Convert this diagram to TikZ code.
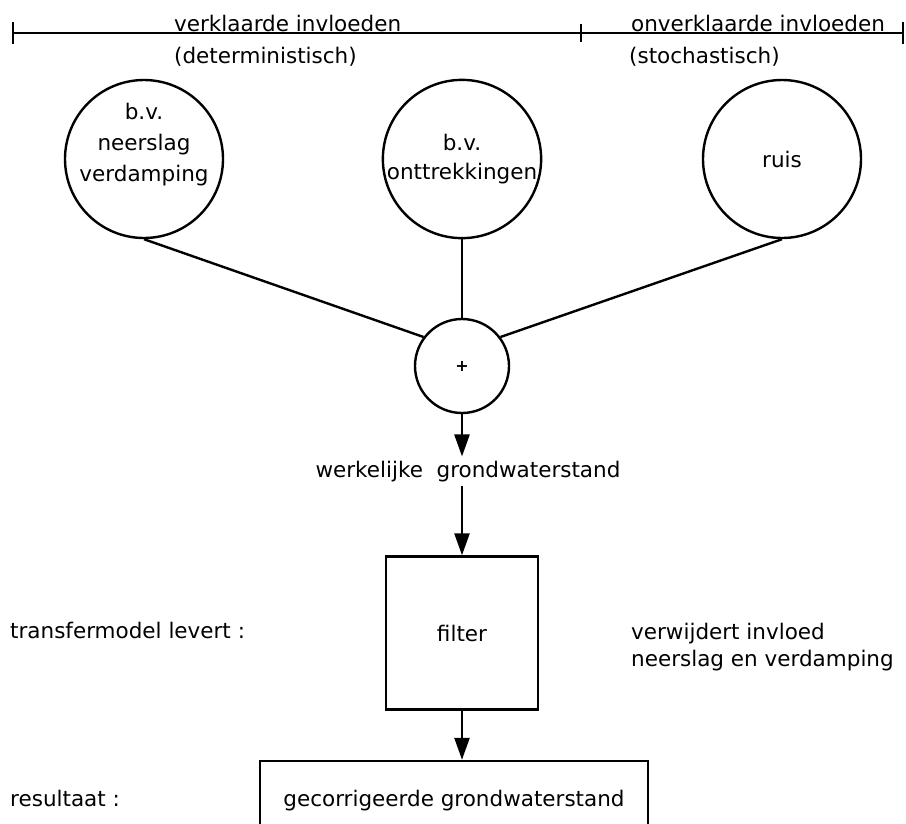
\documentclass[tikz,border=0pt]{standalone}
\usepackage{fontspec}
\setmainfont{DejaVu Sans}
\usetikzlibrary{arrows.meta}

\begin{document}
\begin{tikzpicture}[x=1pt, y=-1pt, line width=2.4pt,
        every node/.style={font=\fontsize{21.5}{31}\selectfont, inner sep=0pt},
        bol/.style={draw, circle, minimum size=158pt, align=center},
        blok/.style={draw, rectangle, align=center},
        pijl/.style={-{Triangle[length=22pt, width=15pt]}}]
    \useasboundingbox (0,0) rectangle (906,823);

    % Schaal bovenaan (verklaard / onverklaard)
    \draw (13,33) -- (903,33);
    \foreach \x/\h in {13/11, 581/9, 903/11} {
        \draw (\x,33-\h) -- (\x,33+\h);
    }
    \node[anchor=base west] (verklaard) at (173,31) {verklaarde invloeden};
    \node[anchor=base west] (determ) at (173,63) {(deterministisch)};
    \node[anchor=base west] (onverklaard) at (630,31) {onverklaarde invloeden};
    \node[anchor=base west] (stoch) at (628,63) {(stochastisch)};

    % Invloeden
    \node[bol, label={[align=center, yshift=14pt]center:b.v.\\neerslag\\verdamping}] (neerslag) at (144,159) {};
    \node[bol, font=\fontsize{21.5}{29}\selectfont] (onttrekking) at (462,159) {b.v.\\onttrekkingen};
    \node[bol] (ruis) at (782,159) {ruis};

    % Optelling
    \node[draw, circle, minimum size=94pt] (som) at (462,366) {\fontsize{16}{16}\selectfont\bfseries +};
    \draw (neerslag.south) -- (som.143);
    \draw (onttrekking.south) -- (som.north);
    \draw (ruis.south) -- (som.37);

    % Grondwaterstand en filter
    \node[anchor=base, inner sep=3pt] (werkelijk) at (468,477) {werkelijke\ \ grondwaterstand};
    \node[blok, minimum width=152pt, minimum height=153pt] (filter) at (462,633) {filter};
    \node[blok, minimum width=388pt, minimum height=80pt] (resultaat) at (454,801) {gecorrigeerde grondwaterstand};
    \draw[pijl] (som) -- (som |- werkelijk.north);
    \draw[pijl] (som |- werkelijk.south) -- (filter);
    \draw[pijl] (filter) -- (filter |- resultaat.north);

    % Toelichting links en rechts
    \node[anchor=base west] (transfer) at (9,638) {transfermodel levert :};
    \node[anchor=base west] (resultaattekst) at (9,806) {resultaat :};
    \node[anchor=north west, align=left, font=\fontsize{21.5}{27}\selectfont] (verwijdert) at (630,622) {verwijdert invloed\\neerslag en verdamping};
\end{tikzpicture}
\end{document}
